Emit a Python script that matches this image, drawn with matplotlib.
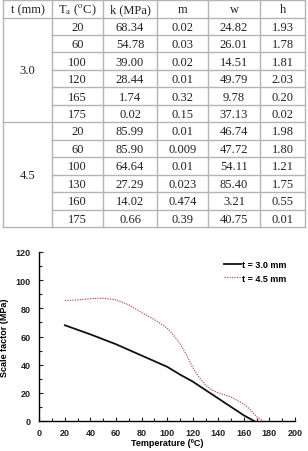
import matplotlib
matplotlib.use('Agg')
from matplotlib import pyplot as plt

plt.rcParams['mathtext.fontset'] = 'stix'

# table data
header = ['t (mm)', r'T$_\mathrm{a}$ ($^\mathrm{o}$C)', 'k (MPa)', 'm', 'w', 'h']
thickness = ['3.0', '4.5']
temps_30 = ['20', '60', '100', '120', '165', '175']
k_30 = ['68.34', '54.78', '39.00', '28.44', '1.74', '0.02']
m_30 = ['0.02', '0.03', '0.02', '0.01', '0.32', '0.15']
w_30 = ['24.82', '26.01', '14.51', '49.79', '9.78', '37.13']
h_30 = ['1.93', '1.78', '1.81', '2.03', '0.20', '0.02']
temps_45 = ['20', '60', '100', '130', '160', '175']
k_45 = ['85.99', '85.90', '64.64', '27.29', '14.02', '0.66']
m_45 = ['0.01', '0.009', '0.01', '0.023', '0.474', '0.39']
w_45 = ['46.74', '47.72', '54.11', '85.40', '3.21', '40.75']
h_45 = ['1.98', '1.80', '1.21', '1.75', '0.55', '0.01']

# curves
T_30 = [20, 40, 60, 80, 100, 110, 120, 140, 160, 168]
S_30 = [68, 61.5, 54.5, 46.5, 38.5, 33, 28, 16, 4, 0]
T_45 = [20, 30, 40, 50, 60, 70, 80, 90, 100, 105, 110, 115, 120, 125, 130,
        135, 140, 150, 160, 165, 170, 175]
S_45 = [85.5, 86, 86.8, 87.2, 86, 82.5, 77, 72, 66, 61, 55, 47, 38, 31, 25.5,
        22, 20, 17, 12, 8, 3, 0]

W, H = 308, 452
fig = plt.figure(figsize=(W / 100, H / 100), dpi=100)

# ---- table drawn in pixel coordinates
tab = fig.add_axes([0, 0, 1, 1])
tab.set_xlim(0, W)
tab.set_ylim(H, 0)
tab.axis('off')

col_x = [3, 52, 103, 157, 208, 260, 305]
top, head_bot = 1, 18.5
row_h = (228 - head_bot) / 12
grid = '#b4b4b4'
tfont = dict(family='Liberation Serif', fontsize=9, color='#222222',
             ha='center', va='center')

# horizontal lines
tab.plot([col_x[0], col_x[-1]], [top, top], color=grid, lw=1)
tab.plot([col_x[0], col_x[-1]], [head_bot, head_bot], color=grid, lw=1)
for i in range(1, 13):
    y = head_bot + i * row_h
    x0 = col_x[0] if i in (6, 12) else col_x[1]
    tab.plot([x0, col_x[-1]], [y, y], color=grid, lw=1)
for x in col_x:
    tab.plot([x, x], [top, 228], color=grid, lw=1)

for j, h in enumerate(header):
    tab.text((col_x[j] + col_x[j + 1]) / 2, (top + head_bot) / 2 + 0.5, h, **tfont)

blocks = [(temps_30, k_30, m_30, w_30, h_30), (temps_45, k_45, m_45, w_45, h_45)]
for b, cols in enumerate(blocks):
    y0 = head_bot + b * 6 * row_h
    tab.text((col_x[0] + col_x[1]) / 2, y0 + 3 * row_h, thickness[b], **tfont)
    for r in range(6):
        yc = y0 + (r + 0.5) * row_h + 0.5
        for c, vals in enumerate(cols):
            tab.text((col_x[c + 1] + col_x[c + 2]) / 2, yc, vals[r], **tfont)

# ---- chart
ax = fig.add_axes([39.3 / W, 1 - 422 / H, (295 - 39.3) / W, (422 - 253) / H])
ax.plot(T_30, S_30, color='#111111', lw=1.3, label='t = 3.0 mm')
ax.plot(T_45, S_45, color='#c8505a', lw=0.9, ls=(0, (1, 1)), label='t = 4.5 mm')

ax.set_xlim(0, 200)
ax.set_ylim(0, 120)
ax.set_xticks(range(0, 201, 20))
ax.set_yticks(range(0, 121, 20))
ax.set_xticks(range(0, 201, 10), minor=True)
ax.set_yticks(range(0, 121, 10), minor=True)
for s in ['top', 'right']:
    ax.spines[s].set_visible(False)
for s in ['left', 'bottom']:
    ax.spines[s].set_linewidth(1.0)
ax.tick_params(which='both', direction='in', width=0.8, labelsize=6.5,
               colors='#222222')
ax.tick_params(axis='x', pad=5)
ax.tick_params(axis='y', pad=6)
ax.tick_params(which='major', length=3)
ax.tick_params(which='minor', length=2)
for lab in ax.get_xticklabels() + ax.get_yticklabels():
    lab.set_fontweight('bold')
    lab.set_family('Liberation Sans')

ax.set_xlabel('Temperature (\u00baC)', fontsize=6.5, fontweight='bold',
              family='Liberation Sans', labelpad=1)
ax.set_ylabel('Scale factor (MPa)', fontsize=6.5, fontweight='bold',
              family='Liberation Sans', labelpad=5)

ax.legend(loc='upper right', frameon=False, handlelength=1.8,
          handletextpad=0.2, prop=dict(family='Liberation Sans',
                                       weight='bold', size=6.5),
          bbox_to_anchor=(1.0, 1.0), labelspacing=0.5)

fig.savefig('out.png', dpi=100)
